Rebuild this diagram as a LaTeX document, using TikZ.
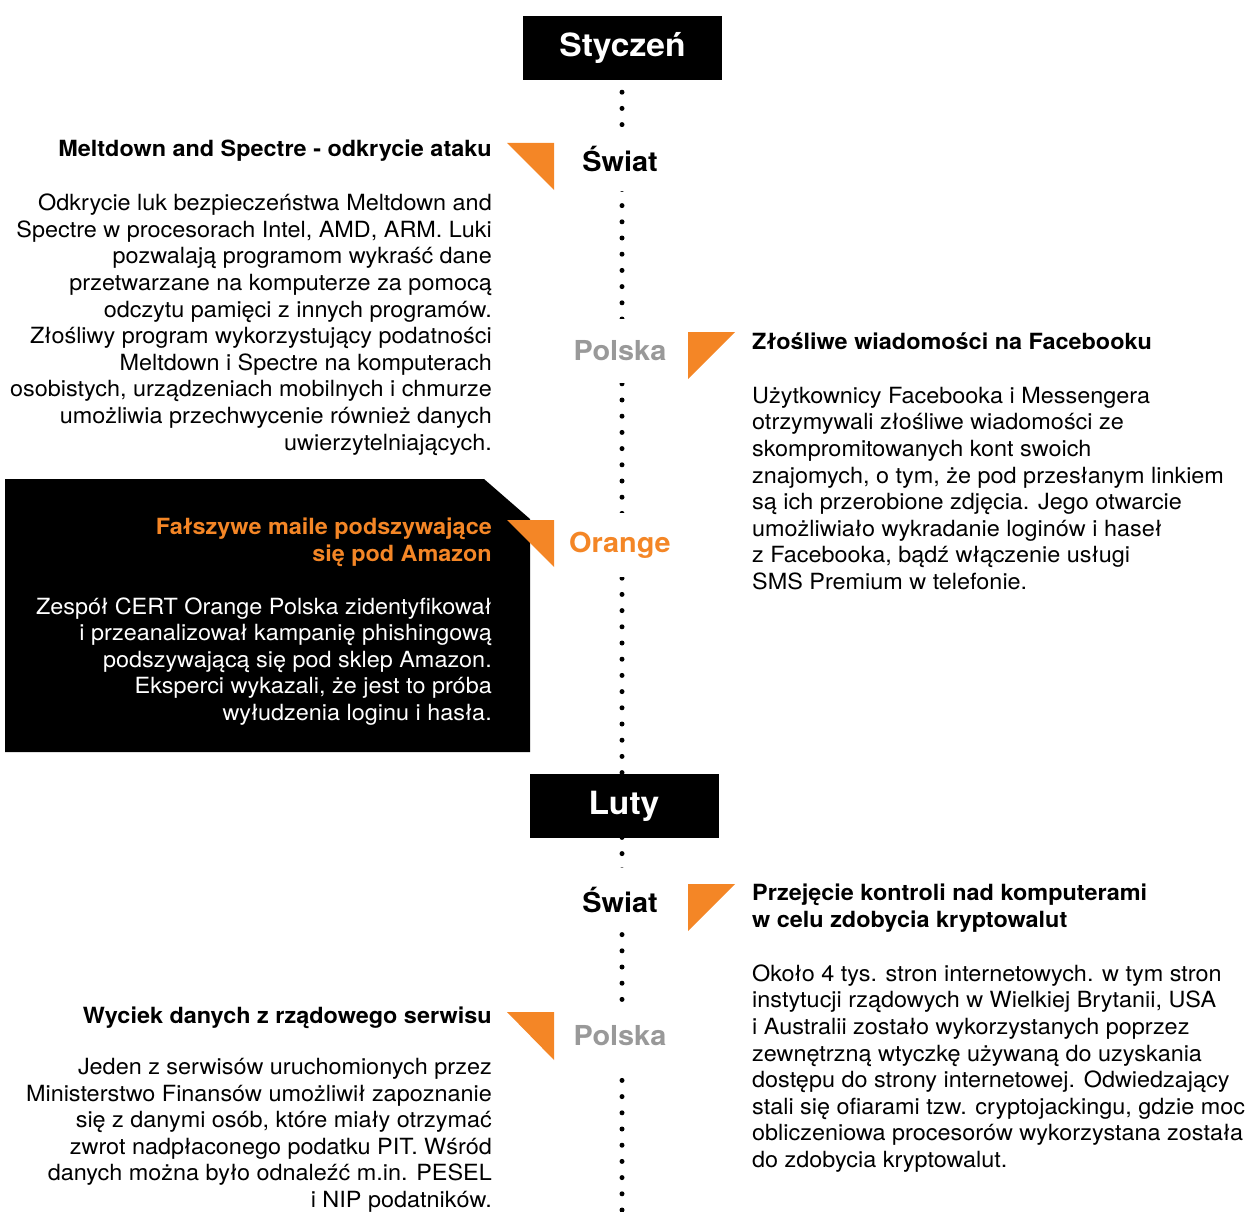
\documentclass[tikz,border=0pt]{standalone}
\usepackage{fontspec}
\setmainfont[FakeStretch=1.05]{TeX Gyre Heros}
\usetikzlibrary{backgrounds}
\definecolor{orng}{RGB}{244,134,38}
\definecolor{lgray}{RGB}{153,153,153}
\tikzset{
  month/.style={fill=black, text=white, font=\fontsize{32}{36}\selectfont\bfseries,
    minimum height=64pt, inner sep=0pt},
  region/.style={fill=white, font=\fontsize{27.5}{32}\selectfont\bfseries,
    minimum width=120pt, minimum height=64pt, inner sep=0pt},
  ttl/.style={font=\fontsize{22.3}{26.6}\selectfont\bfseries, inner sep=0pt},
  txt/.style={font=\fontsize{22.3}{26.6}\selectfont, inner sep=0pt},
  dotline/.style={line width=5pt, line cap=round, dash pattern=on 0pt off 16.2pt, dash phase=4.2pt},
}
\begin{document}
\begin{tikzpicture}[x=1pt, y=-1pt]
            \useasboundingbox (0,0) rectangle (1248,1212);

            % Draw the black panel
            \fill (5,479) -- (484,479) -- (530,519) -- (530,752) -- (5,752) -- cycle;

            % Months and regions on the time line
            \node[month, minimum width=199pt] (styczen) at (622.5,48) {Styczeń};
            \node[region] (swiatA) at (620,159) {Świat};
            \node[region, text=lgray] (polskaA) at (620,351) {Polska};
            \node[region, text=orng] (orangeA) at (620,545) {Orange};
            \node[month, minimum width=189pt] (luty) at (624,806) {Luty};
            \node[region] (swiatB) at (620,900) {Świat};
            \node[region, text=lgray] (polskaB) at (620,1036) {Polska};
            \coordinate (bottom) at (622,1215);

            % Draw the dotted time line
            \begin{scope}[on background layer]
            \draw[dotline] (styczen.south -| bottom) -- (bottom);
            \end{scope}

            % Draw the orange markers
            \fill[orng] (507,143) -- (554,143) -- (554,190) -- cycle;
            \fill[orng] (688,332) -- (735,332) -- (688,379) -- cycle;
            \fill[orng] (507,520) -- (554,520) -- (554,567) -- cycle;
            \fill[orng] (688,884) -- (735,884) -- (688,931) -- cycle;
            \fill[orng] (507,1012) -- (554,1012) -- (554,1060) -- cycle;

            % Styczen
            \node[ttl, anchor=base east] (meltdownT) at (492,157) {Meltdown and Spectre - odkrycie ataku};
            \node[txt, anchor=base east, align=right] (meltdownB) at (492,450) {Odkrycie luk bezpieczeństwa Meltdown and\\
              Spectre w procesorach Intel, AMD, ARM. Luki\\
              pozwalają programom wykraść dane\\
              przetwarzane na komputerze za pomocą\\
              odczytu pamięci z innych programów.\\
              Złośliwy program wykorzystujący podatności\\
              Meltdown i Spectre na komputerach\\
              osobistych, urządzeniach mobilnych i chmurze\\
              umożliwia przechwycenie również danych\\
              uwierzytelniających.};

            \node[ttl, anchor=base west] (zlosliweT) at (752,349.5) {Złośliwe wiadomości na Facebooku};
            \node[txt, anchor=base west, align=left] (zlosliweB) at (752,589.5) {Użytkownicy Facebooka i Messengera\\
              otrzymywali złośliwe wiadomości ze\\
              skompromitowanych kont swoich\\
              znajomych, o tym, że pod przesłanym linkiem\\
              są ich przerobione zdjęcia. Jego otwarcie\\
              umożliwiało wykradanie loginów i haseł\\
              z Facebooka, bądź włączenie usługi\\
              SMS Premium w telefonie.};

            \node[ttl, text=orng, anchor=base east, align=right] (falszyweT) at (492,561.5) {Fałszywe maile podszywające\\
              się pod Amazon};
            \node[txt, text=white, anchor=base east, align=right] (falszyweB) at (492,720.5) {Zespół CERT Orange Polska zidentyfikował\\
              i przeanalizował kampanię phishingową\\
              podszywającą się pod sklep Amazon.\\
              Eksperci wykazali, że jest to próba\\
              wyłudzenia loginu i hasła.};

            % Luty
            \node[ttl, anchor=base west, align=left] (przejecieT) at (752,927.5) {Przejęcie kontroli nad komputerami\\
              w celu zdobycia kryptowalut};
            \node[txt, anchor=base west, align=left] (przejecieB) at (752,1167.5) {Około 4 tys. stron internetowych. w tym stron\\
              instytucji rządowych w Wielkiej Brytanii, USA\\
              i Australii zostało wykorzystanych poprzez\\
              zewnętrzną wtyczkę używaną do uzyskania\\
              dostępu do strony internetowej. Odwiedzający\\
              stali się ofiarami tzw. cryptojackingu, gdzie moc\\
              obliczeniowa procesorów wykorzystana została\\
              do zdobycia kryptowalut.};

            \node[ttl, anchor=base east] (wyciekT) at (492,1023.5) {Wyciek danych z rządowego serwisu};
            \node[txt, anchor=base east, align=right] (wyciekB) at (492,1207.5) {Jeden z serwisów uruchomionych przez\\
              Ministerstwo Finansów umożliwił zapoznanie\\
              się z danymi osób, które miały otrzymać\\
              zwrot nadpłaconego podatku PIT. Wśród\\
              danych można było odnaleźć m.in. PESEL\\
              i NIP podatników.};
\end{tikzpicture}
\end{document}
